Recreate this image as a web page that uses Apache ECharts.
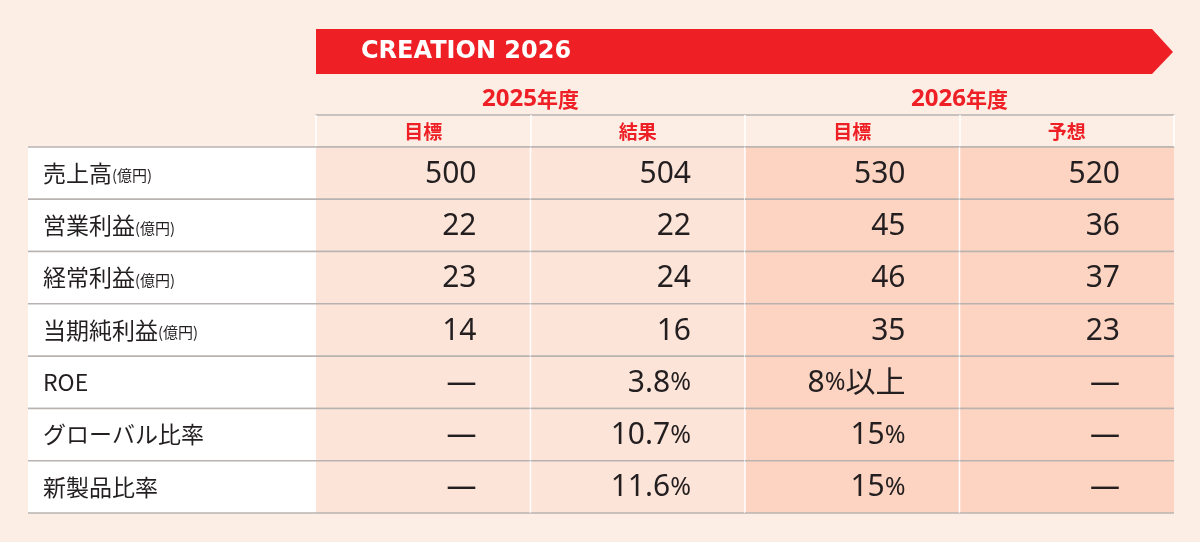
<!DOCTYPE html>
<html>
<head>
<meta charset="utf-8">
<script src="https://cdn.jsdelivr.net/npm/echarts@6/dist/echarts.min.js"></script>
<style>
  html, body { margin: 0; padding: 0; background: #fcede5; }
  #main { width: 1200px; height: 542px; }
</style>
</head>
<body>
<div id="main"></div>
<script>
// table content
var rowNames = ['売上高', '営業利益', '経常利益', '当期純利益', 'ROE', 'グローバル比率', '新製品比率'];
var rowUnits = ['億円', '億円', '億円', '億円', '%', '%', '%'];
var yearLabels = ['2025年度', '2026年度'];
var columnLabels = ['目標', '結果', '目標', '予想'];
var target2025 = [500, 22, 23, 14, null, null, null];
var result2025 = [504, 22, 24, 16, 3.8, 10.7, 11.6];
var target2026 = [530, 45, 46, 35, '8%以上', 15, 15];
var forecast2026 = [520, 36, 37, 23, null, null, null];
var columns = [target2025, result2025, target2026, forecast2026];

var RED = '#ee1f25';
var INK = '#231f20';
var RULE = '#b8b3b0';
var NUM_FONT = '"Noto Sans", "Noto Sans CJK JP", sans-serif';
var JP_FONT = '"Noto Sans CJK JP", sans-serif';
var cellFill = ['#fde4d9', '#fde4d9', '#fdd3c1', '#fdd3c1'];

var fmt = function (v, unit) {
    if (v === null) return '—';
    var s = String(v);
    if (unit === '%' && typeof v === 'number') s += '%';
    return s.replace('%', '{p|%}');
};

var cellData = [];
var cellText = [];
columns.forEach(function (col, j) {
    col.forEach(function (v, i) {
        cellData.push([j, i]);
        cellText.push(fmt(v, rowUnits[i]));
    });
});

var labelData = rowNames.map(function (n, i) { return [0, i]; });
var labelText = rowNames.map(function (n, i) {
    return rowUnits[i] === '億円' ? n + '{u|(億円)}' : n;
});

var ruleLines = function (left, top, w, h) {
    return [
        { type: 'line', shape: { x1: left, y1: top, x2: left + w, y2: top }, style: { stroke: RULE, lineWidth: 1.5 } },
        { type: 'line', shape: { x1: left, y1: top + h, x2: left + w, y2: top + h }, style: { stroke: RULE, lineWidth: 1.5 } }
    ];
};

var renderValue = function (params, api) {
    var col = api.value(0), row = api.value(1);
    var c = api.coord([col, row]);
    var s = api.size([1, 1]);
    var left = c[0] - s[0] / 2, top = c[1] - s[1] / 2;
    var children = [
        { type: 'rect', shape: { x: left, y: top, width: s[0], height: s[1] }, style: { fill: cellFill[col] } }
    ];
    if (col > 0) {
        children.push({ type: 'line', shape: { x1: left, y1: top, x2: left, y2: top + s[1] }, style: { stroke: '#ffffff', lineWidth: 1.5 } });
    }
    children = children.concat(ruleLines(left, top, s[0], s[1]));
    children.push({
        type: 'text',
        x: left + s[0] - 54,
        y: c[1] + 1,
        style: {
            text: cellText[params.dataIndex],
            align: 'right',
            verticalAlign: 'middle',
            fontFamily: NUM_FONT,
            fontSize: 30,
            fill: INK,
            rich: { p: { fontFamily: NUM_FONT, fontSize: 25, fill: INK } }
        }
    });
    return { type: 'group', children: children };
};

var renderLabel = function (params, api) {
    var c = api.coord([0, api.value(1)]);
    var s = api.size([1, 1]);
    var left = c[0] - s[0] / 2, top = c[1] - s[1] / 2;
    var children = [
        { type: 'rect', shape: { x: left, y: top, width: s[0], height: s[1] }, style: { fill: '#ffffff' } }
    ].concat(ruleLines(left, top, s[0], s[1]));
    children.push({
        type: 'text',
        x: left + 15,
        y: c[1],
        style: {
            text: labelText[params.dataIndex],
            align: 'left',
            verticalAlign: 'middle',
            fontFamily: JP_FONT,
            fontSize: 23,
            fill: INK,
            rich: { u: { fontFamily: JP_FONT, fontSize: 15, fill: INK, padding: [5, 0, 0, 0] } }
        }
    });
    return { type: 'group', children: children };
};

var chartDom = document.getElementById('main');
var myChart = echarts.init(chartDom);
var option = {
    backgroundColor: '#fcede5',
    animation: false,
    grid: [
        { left: 28, width: 288, top: 147, bottom: 29, containLabel: false, outerBoundsMode: 'none' },
        { left: 316, right: 26, top: 147, bottom: 29, containLabel: false, outerBoundsMode: 'none' }
    ],
    xAxis: [
        {
            gridIndex: 0, type: 'category', data: ['項目'], position: 'top',
            axisLine: { show: false }, axisTick: { show: false }, axisLabel: { show: false }
        },
        {
            gridIndex: 1, type: 'category', data: columnLabels, position: 'top',
            axisLine: { show: true, lineStyle: { color: RULE, width: 1.5 } },
            axisTick: { show: true, length: 32, lineStyle: { color: '#ffffff', width: 1.5 } },
            axisLabel: { margin: 6, color: RED, fontFamily: JP_FONT, fontWeight: 'bold', fontSize: 19 }
        },
        {
            gridIndex: 1, type: 'category', data: yearLabels, position: 'top', offset: 32,
            axisLine: { show: true, lineStyle: { color: RULE, width: 1.5 } },
            axisTick: { show: false },
            axisLabel: {
                margin: 4,
                formatter: function (v) { return '{n|' + v.slice(0, 4) + '}{k|' + v.slice(4) + '}'; },
                rich: {
                    n: { color: RED, fontFamily: NUM_FONT, fontWeight: 'bold', fontSize: 24 },
                    k: { color: RED, fontFamily: JP_FONT, fontWeight: 'bold', fontSize: 21 }
                }
            }
        }
    ],
    yAxis: [
        { gridIndex: 0, type: 'category', data: rowNames, inverse: true, show: false },
        { gridIndex: 1, type: 'category', data: rowNames, inverse: true, show: false }
    ],
    graphic: [
        {
            type: 'polygon',
            shape: { points: [[316, 29], [1152, 29], [1173, 52], [1152, 74], [316, 74]] },
            style: { fill: RED }
        },
        {
            type: 'text',
            x: 361, y: 52,
            style: {
                text: 'CREATION 2026',
                fill: '#ffffff',
                fontFamily: '"DejaVu Sans", Lato, sans-serif',
                fontWeight: 'bold',
                fontSize: 24,
                verticalAlign: 'middle'
            }
        }
    ],
    series: [
        {
            name: 'labels', type: 'custom', xAxisIndex: 0, yAxisIndex: 0,
            renderItem: renderLabel, data: labelData, silent: true
        },
        {
            name: 'values', type: 'custom', xAxisIndex: 1, yAxisIndex: 1,
            renderItem: renderValue, data: cellData, silent: true
        }
    ]
};

option && myChart.setOption(option);
window.addEventListener('resize', function () { myChart.resize(); });
</script>
</body>
</html>
